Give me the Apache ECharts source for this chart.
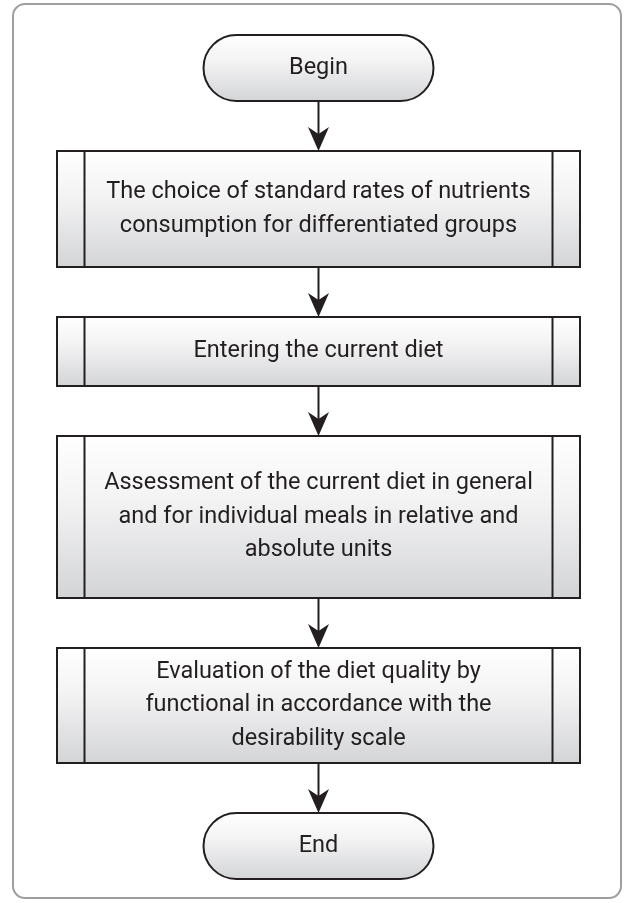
<!DOCTYPE html>
<html>
<head>
<meta charset="utf-8">
<script src="https://cdn.jsdelivr.net/npm/echarts@6/dist/echarts.min.js"></script>
<style>
html,body{margin:0;padding:0;background:#fff;}
#chart{width:629px;height:903px;}
</style>
</head>
<body>
<div id="chart"></div>
<script>
// ---- data: flowchart steps ----
var stepTexts = [
  'Begin',
  'The choice of standard rates of nutrients\nconsumption for differentiated groups',
  'Entering the current diet',
  'Assessment of the current diet in general\nand for individual meals in relative and\nabsolute units',
  'Evaluation of the diet quality by\nfunctional in accordance with the\ndesirability scale',
  'End'
];
var stepKinds = ['terminal', 'process', 'process', 'process', 'process', 'terminal'];

// ---- layout (sizes/styles, kept separate from data) ----
var layout = {
  width: 629, height: 903,
  top: 35,
  gap: 50,
  centerX: 318.5,
  terminalWidth: 230,
  processWidth: 523,
  sideInset: 27.5,
  heights: [66, 116, 69, 162, 115, 66],
  lineHeight: 33.5,
  font: '23.5px Roboto',
  stroke: '#231f20',
  text: '#231f20'
};

var yTops = [];
(function () {
  var y = layout.top;
  for (var i = 0; i < stepTexts.length; i++) {
    yTops.push(y);
    y += layout.heights[i] + layout.gap;
  }
})();

var seriesData = stepTexts.map(function (t, i) {
  return [layout.centerX, yTops[i], yTops[i] + layout.heights[i], i];
});

function grad() {
  return new echarts.graphic.LinearGradient(0, 0, 0, 1, [
    {offset: 0, color: '#ffffff'},
    {offset: 0.4, color: '#f3f3f4'},
    {offset: 1, color: '#d3d4d6'}
  ]);
}

var chart = echarts.init(document.getElementById('chart'), null, {renderer: 'canvas'});

chart.setOption({
  animation: false,
  backgroundColor: '#ffffff',
  grid: {left: 0, right: 0, top: 0, bottom: 0},
  xAxis: {type: 'value', min: 0, max: layout.width, show: false},
  yAxis: {type: 'value', min: 0, max: layout.height, inverse: true, show: false},
  graphic: [{
    type: 'rect',
    shape: {x: 13, y: 4, width: 608, height: 894, r: 12},
    style: {fill: 'none', stroke: '#9d9ea0', lineWidth: 2},
    silent: true,
    z: 0
  }],
  series: [{
    type: 'custom',
    coordinateSystem: 'cartesian2d',
    data: seriesData,
    encode: {x: 0, y: [1, 2]},
    z: 2,
    renderItem: function (params, api) {
      var idx = api.value(3);
      var kind = stepKinds[idx];
      var w = kind === 'terminal' ? layout.terminalWidth : layout.processWidth;
      var cx = api.value(0);
      var p0 = api.coord([cx - w / 2, api.value(1)]);
      var p1 = api.coord([cx + w / 2, api.value(2)]);
      var x = p0[0], y = p0[1], ww = p1[0] - p0[0], hh = p1[1] - p0[1];
      var children = [];
      children.push({
        type: 'rect',
        shape: {x: x, y: y, width: ww, height: hh, r: kind === 'terminal' ? hh / 2 : 0},
        style: {fill: grad(), stroke: layout.stroke, lineWidth: 2}
      });
      if (kind === 'process') {
        var inset = layout.sideInset;
        children.push({type: 'line', shape: {x1: x + inset, y1: y, x2: x + inset, y2: y + hh},
          style: {stroke: layout.stroke, lineWidth: 2}});
        children.push({type: 'line', shape: {x1: x + ww - inset, y1: y, x2: x + ww - inset, y2: y + hh},
          style: {stroke: layout.stroke, lineWidth: 2}});
      }
      children.push({
        type: 'text',
        style: {
          text: stepTexts[idx],
          x: x + ww / 2, y: y + hh / 2,
          align: 'center', verticalAlign: 'middle',
          font: layout.font, lineHeight: layout.lineHeight,
          fill: layout.text
        }
      });
      if (idx > 0) {
        var prevBottom = api.coord([cx, seriesData[idx - 1][2]]);
        var top = api.coord([cx, api.value(1)]);
        var ax = top[0];
        children.push({type: 'line', shape: {x1: ax, y1: prevBottom[1], x2: ax, y2: top[1] - 10},
          style: {stroke: layout.stroke, lineWidth: 2}});
        var ty = top[1];
        children.push({
          type: 'polygon',
          shape: {points: [[ax, ty], [ax + 10.5, ty - 24], [ax, ty - 17], [ax - 10.5, ty - 24]]},
          style: {fill: layout.stroke}
        });
      }
      return {type: 'group', children: children};
    }
  }]
});
</script>
</body>
</html>
